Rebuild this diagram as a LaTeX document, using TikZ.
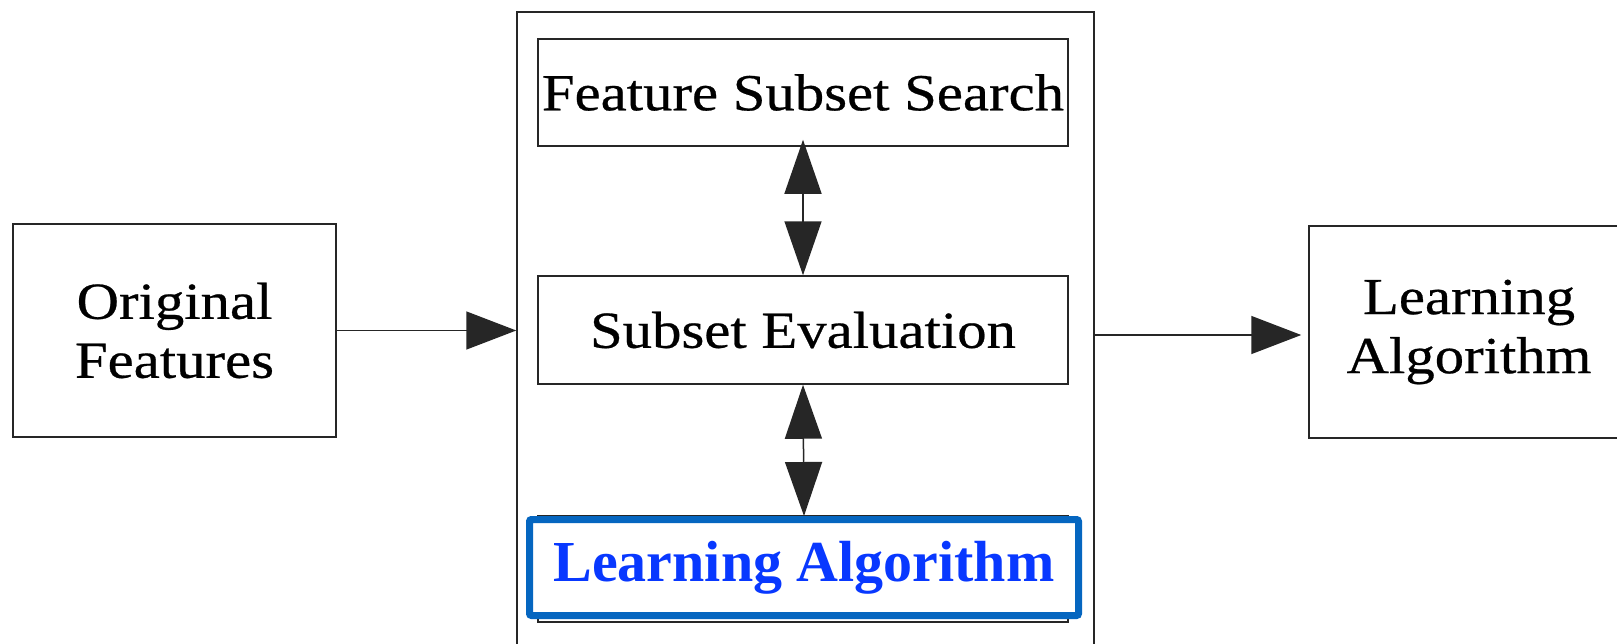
\documentclass[tikz,border=0pt]{standalone}
\usepackage{fontspec}
\setmainfont{Liberation Serif}
\newfontfamily\boxfont[FakeStretch=1.13, FakeBold=0.5]{Liberation Serif}
\usetikzlibrary{arrows.meta}
\definecolor{laborder}{RGB}{5,102,192}
\definecolor{latext}{RGB}{8,56,255}
\tikzset{
  box/.style={draw=black!85, line width=1.5pt, rectangle, inner sep=0pt, align=center,
              font=\boxfont\fontsize{52}{59}\selectfont},
  conn/.style={draw=black!85, line width=1.5pt},
  headH/.style={-{Triangle[length=50pt,width=38pt]}},
  headV/.style={{Triangle[length=54pt,width=37pt]}-{Triangle[length=54pt,width=37pt]}},
}
\begin{document}
\begin{tikzpicture}[x=1pt,y=1pt]
\useasboundingbox (0,0) rectangle (1617,-643);
\fill[white] (0,0) rectangle (1617,-643);
% outer container
\node[box, minimum width=577pt, minimum height=700pt] (wrap) at (805.5,-362) {};
% inner boxes
\node[box, minimum width=530pt, minimum height=107pt] (fss) at (803,-92.5) {Feature Subset Search};
\node[box, minimum width=530pt, minimum height=108pt] (se) at (803,-330) {Subset Evaluation};
\node[box, minimum width=530pt, minimum height=106pt] (labg) at (803,-569) {};
\node[draw=laborder, line width=7pt, rounded corners=2pt, fill=white, rectangle, inner sep=0pt,
      minimum width=549pt, minimum height=96pt, text=latext,
      font=\fontsize{58}{66}\selectfont\bfseries] (la) at (804,-567.5) {Learning Algorithm};
% side boxes
\node[box, minimum width=323pt, minimum height=213pt] (orig) at (174.5,-330.5) {Original\\Features};
\node[box, minimum width=320pt, minimum height=212pt] (rbox) at (1469,-332) {Learning\\Algorithm};
% connectors
\draw[conn, headH] (orig) -- (orig -| wrap.west);
\draw[conn, headH, shorten >=7pt] (wrap.east |- 0,-335) -- (rbox.west |- 0,-335);
\draw[conn, headV, shorten <=-7pt] (fss.south) -- (se.north);
\draw[conn, headV] (se.south) -- (la.north);
\end{tikzpicture}
\end{document}
